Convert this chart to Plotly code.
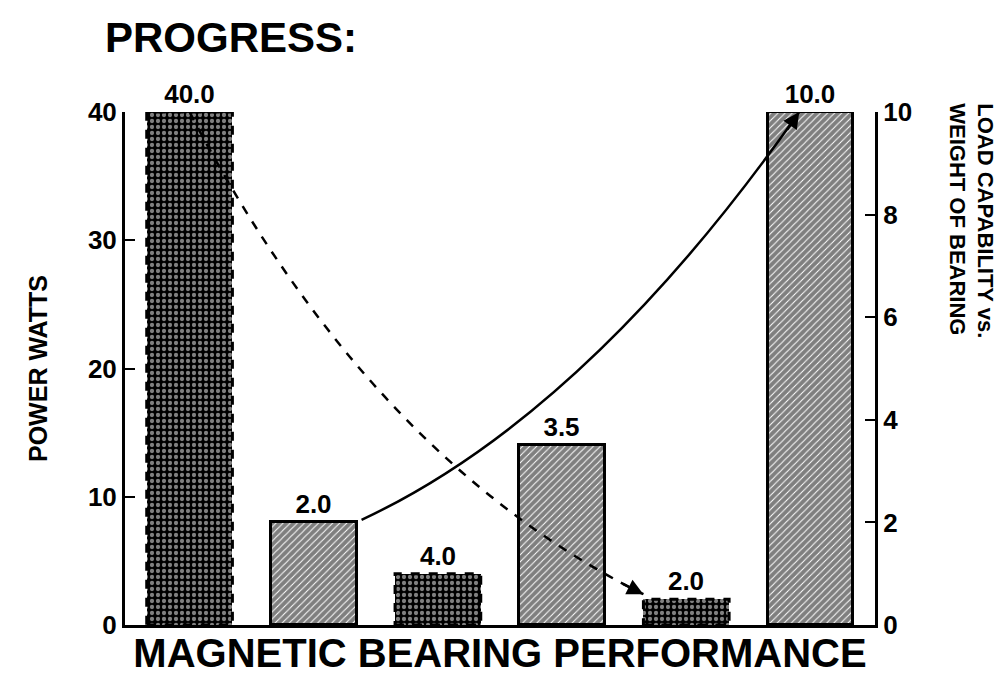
import plotly.graph_objects as go

# %% Data
power_x = [0, 2, 4]
power_watts = [40.0, 4.0, 2.0]
load_x = [1, 3, 5]
load_ratio = [2.0, 3.5, 10.0]

left_ticks = [0, 10, 20, 30, 40]
right_ticks = [0, 2, 4, 6, 8, 10]

BAR_W = 0.69
FONT = "Liberation Sans"
# page body has an 8px default margin, so the figure is made smaller to fit
PAD = 8

fig = go.Figure()

# Power bars (dotted fill, dashed outline drawn as shapes below)
fig.add_trace(go.Bar(
    x=power_x, y=power_watts, width=BAR_W,
    marker=dict(color="black",
                pattern=dict(shape=".", fgcolor="white", bgcolor="black",
                             size=6, solidity=0.4),
                line=dict(width=0)),
    texttemplate="<b>%{y:.1f}</b>", textposition="outside",
    textfont=dict(family=FONT, size=26, color="black"),
    cliponaxis=False, showlegend=False, yaxis="y",
))

# Load/weight bars (diagonal hatch, solid outline)
fig.add_trace(go.Bar(
    x=load_x, y=load_ratio, width=BAR_W,
    marker=dict(color="white",
                pattern=dict(shape="/", fgcolor="black", bgcolor="white",
                             size=5, solidity=0.8),
                line=dict(width=3, color="black")),
    texttemplate="<b>%{y:.1f}</b>", textposition="outside",
    textfont=dict(family=FONT, size=26, color="black"),
    cliponaxis=False, showlegend=False, yaxis="y2",
))

# dashed outlines for the power bars
for xv, yv in zip(power_x, power_watts):
    fig.add_shape(type="rect", xref="x", yref="y",
                  x0=xv - BAR_W / 2, x1=xv + BAR_W / 2, y0=0, y1=yv,
                  line=dict(color="black", width=3, dash="dash"))

# dashed trend curve: power drops from first to last power bar
p0 = (power_x[0], power_watts[0])
p2 = (power_x[2] - BAR_W / 2, power_watts[2] + 0.4)
ctrl = (1.45, 13.0)
fig.add_shape(type="path", xref="x", yref="y",
              path=f"M {p0[0]},{p0[1]} Q {ctrl[0]},{ctrl[1]} {p2[0]},{p2[1]}",
              line=dict(color="black", width=2.5, dash="dash"))
fig.add_annotation(x=p2[0], y=p2[1], xref="x", yref="y", text="",
                   showarrow=True, arrowhead=2, arrowsize=1.3, arrowwidth=2.5,
                   arrowcolor="black", ax=-22, ay=-11)

# solid trend curve: load ratio rises from first to last load bar
q0 = (load_x[0] + BAR_W / 2 + 0.04, load_ratio[0] + 0.05)
q2 = (load_x[2] - 0.09, load_ratio[2])
qc = (3.2, 4.1)
fig.add_shape(type="path", xref="x", yref="y2",
              path=f"M {q0[0]},{q0[1]} Q {qc[0]},{qc[1]} {q2[0]},{q2[1]}",
              line=dict(color="black", width=2.5))
fig.add_annotation(x=q2[0], y=q2[1], xref="x", yref="y2", text="",
                   showarrow=True, arrowhead=2, arrowsize=1.3, arrowwidth=2.5,
                   arrowcolor="black", ax=-13, ay=19)

# titles
fig.add_annotation(text="<b>PROGRESS:</b>", xref="paper", yref="paper",
                   x=-0.03, y=1.145, xanchor="left", yanchor="middle",
                   showarrow=False, font=dict(family=FONT, size=42, color="black"))
fig.add_annotation(text="<b>LOAD CAPABILITY vs.<br>WEIGHT OF BEARING</b>",
                   xref="paper", yref="paper", x=1.128, y=1.02,
                   xanchor="center", yanchor="top", textangle=90,
                   showarrow=False, align="left",
                   font=dict(family=FONT, size=22, color="black"))

fig.update_layout(
    width=1004 - PAD, height=693 - PAD,
    paper_bgcolor="white", plot_bgcolor="white",
    margin=dict(l=125 - PAD, r=129, t=112 - PAD, b=68),
    bargap=0,
    font=dict(family=FONT, color="black"),
    xaxis=dict(range=[-0.52, 5.52], showticklabels=False, ticks="",
               showgrid=False, zeroline=False, showline=True,
               linecolor="black", linewidth=3,
               title=dict(text="<b>MAGNETIC BEARING PERFORMANCE</b>",
                          font=dict(family=FONT, size=40), standoff=12)),
    yaxis=dict(range=[0, 40], tickvals=left_ticks, ticks="inside",
               ticklen=10, tickwidth=2, tickcolor="black",
               showline=True, linecolor="black", linewidth=3,
               showgrid=False, zeroline=False,
               tickfont=dict(family=FONT, size=26, color="black", weight="bold"),
               title=dict(text="<b>POWER WATTS</b>",
                          font=dict(family=FONT, size=25), standoff=34)),
    yaxis2=dict(range=[0, 10], tickvals=right_ticks, overlaying="y",
                side="right", ticks="inside", ticklen=10, tickwidth=2,
                tickcolor="black", showline=True, linecolor="black",
                linewidth=3, showgrid=False, zeroline=False,
                tickfont=dict(family=FONT, size=26, color="black", weight="bold")),
)

fig.write_html("out.html")
